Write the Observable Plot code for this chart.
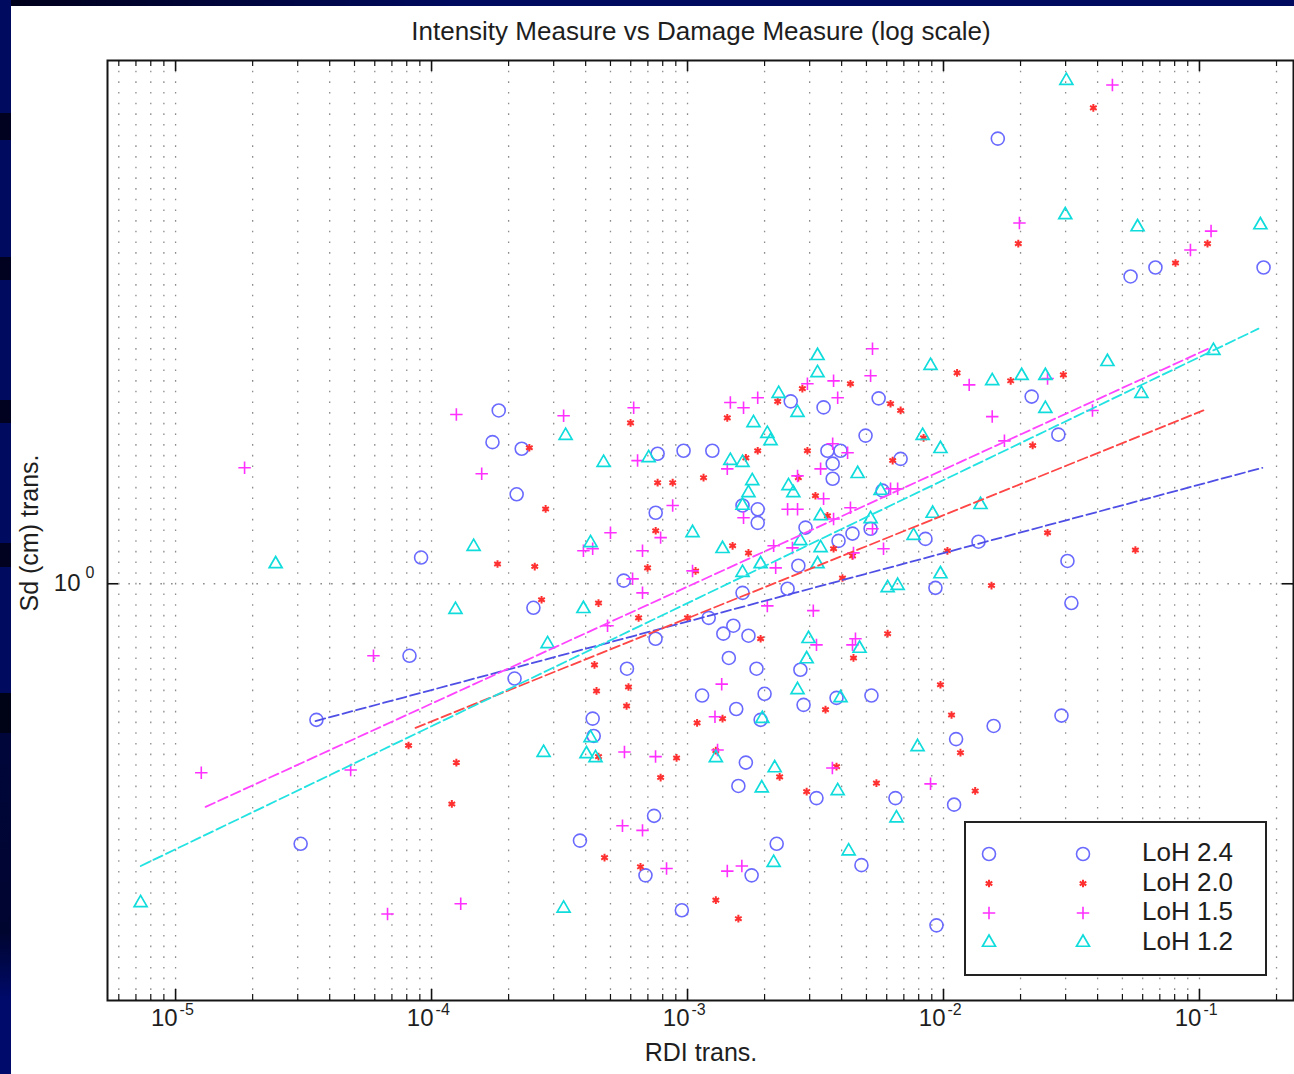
<!DOCTYPE html>
<html><head><meta charset="utf-8">
<script src="https://cdn.jsdelivr.net/npm/d3@7"></script>
<script src="https://cdn.jsdelivr.net/npm/@observablehq/plot@0.6"></script>
<style>
html,body{margin:0;padding:0;}
body{width:1294px;height:1074px;position:relative;overflow:hidden;background:#000a5e;font-family:"Liberation Sans",Arial,Helvetica,sans-serif;color:#1e1e1e;}
#topbar{position:absolute;left:0;top:0;width:1294px;height:6px;background:linear-gradient(90deg,#00001a 0%,#000330 12%,#000a5e 35%,#000a5e 100%);}
#leftbar{position:absolute;left:0;top:0;width:11px;height:1074px;background:linear-gradient(180deg,
 #000a5e 0px,#000a5e 113px,#00021f 113px,#00021f 140px,#000a5e 140px,#000a5e 257px,#00021f 257px,#00021f 280px,#000a5e 280px,#000a5e 400px,#00021f 400px,#00021f 423px,#000a5e 423px,#000a5e 543px,#00021f 543px,#00021f 567px,#000a5e 567px,#000a5e 693px,#000216 693px,#000216 733px,#00063a 733px,#000530 933px,#000a6a 1000px,#000a6a 1074px);}
#paper{position:absolute;left:11px;top:6px;width:1283px;height:1068px;background:#fff;}
#paper svg{position:absolute;left:0;top:0;}
.lbl{position:absolute;white-space:nowrap;line-height:1;color:#1e1e1e;}
#title{left:0;width:1402px;text-align:center;top:18px;font-size:26px;}
#xlabel{left:0;width:1402px;text-align:center;top:1040px;font-size:25px;}
#ylabel{left:29px;top:533px;font-size:25px;transform:translate(-50%,-50%) rotate(-90deg);}
#legend{position:absolute;left:964px;top:821px;width:303px;height:155px;box-sizing:border-box;border:2px solid #222;background:#fff;}
#legend svg{position:absolute;left:-1px;top:-1px;}
</style></head>
<body>
<div id="topbar"></div>
<div id="leftbar"></div>
<div id="paper"></div>
<div class="lbl" id="title">Intensity Measure vs Damage Measure (log scale)</div>
<div class="lbl" id="xlabel">RDI trans.</div>
<div class="lbl" id="ylabel">Sd (cm) trans.</div>
<div id="legend"></div>
<script>
// ---- data (RDI trans., Sd trans.) ----
const loh24 = [
[0.0163,2.69],[0.0538,1.98],[0.0673,2.02],[0.178,2.02],
[1.83e-4,1.47],[1.73e-4,1.37],[2.25e-4,1.35],[2.15e-4,1.22],[9.1e-5,1.06],[8.2e-5,0.852],[3.55e-5,0.739],[3.08e-5,0.561],[2.11e-4,0.81],[2.5e-4,0.948],
[5.8e-4,0.828],[7.5e-4,0.885],[4.26e-4,0.741],[4.3e-4,0.713],[3.8e-4,0.565],[6.85e-4,0.523],[7.4e-4,0.597],[9.5e-4,0.484],
[1.14e-3,0.78],[1.45e-3,0.848],[1.55e-3,0.757],[1.69e-3,0.672],[1.58e-3,0.638],[1.78e-3,0.523],[2.23e-3,0.561],[1.86e-3,0.828],[2.0e-3,0.783],[1.93e-3,0.739],
[2.76e-3,0.826],[2.84e-3,0.764],[3.82e-3,0.776],[3.19e-3,0.621],[4.78e-3,0.535],[5.23e-3,0.78],[6.49e-3,0.621],
[0.0112,0.708],[0.0110,0.612],[9.39e-3,0.468],[0.0137,1.098],[0.0157,0.729],[0.0221,1.516],[0.0281,1.393],[0.0305,1.052],[0.0316,0.958],[0.0289,0.746],
[2.53e-3,1.50],[3.40e-3,1.48],[5.58e-3,1.51],[4.96e-3,1.39],[7.64e-4,1.335],[9.65e-4,1.344],[1.25e-3,1.344],[3.52e-3,1.344],[3.96e-3,1.344],[3.69e-3,1.306],[3.69e-3,1.263],[6.8e-3,1.32],[5.78e-3,1.23],[7.51e-4,1.171],[1.64e-3,1.19],[1.88e-3,1.18],[1.88e-3,1.145],[2.89e-3,1.133],[5.19e-3,1.13],[4.41e-3,1.118],[3.89e-3,1.10],[8.5e-3,1.105],[2.71e-3,1.041],[5.63e-4,1.007],[1.64e-3,0.98],[2.46e-3,0.989],[9.3e-3,0.991],[1.21e-3,0.927],[1.38e-3,0.895],[1.51e-3,0.911],[1.73e-3,0.891]
];
const loh20 = [
[0.0385,2.88],[0.0196,2.13],[0.0806,2.04],[0.1075,2.13],
[2.41e-4,1.353],[2.79e-4,1.181],[1.81e-4,1.045],[2.53e-4,1.039],[2.69e-4,0.965],[8.13e-5,0.698],[1.25e-4,0.672],[1.2e-4,0.613],
[4.33e-4,0.835],[5.88e-4,0.795],[5.78e-4,0.762],[4.41e-4,0.788],[4.49e-4,0.681],[4.74e-4,0.544],[6.55e-4,0.533],[7.85e-4,0.650],[9.06e-4,0.679],
[1.09e-3,0.734],[1.29e-3,0.690],[1.29e-3,0.495],[1.58e-3,0.475],[1.37e-3,0.741],[2.29e-3,0.651],[2.92e-3,0.630],[3.46e-3,0.756],[3.82e-3,0.666],[4.45e-3,0.848],[5.47e-3,0.642],
[9.73e-3,0.799],[0.01075,0.747],[0.01165,0.687],[0.0133,0.631],[0.0154,0.996],[0.0183,1.570],[0.0223,1.36],[0.0294,1.591],[0.0255,1.12],[0.0562,1.078],
[0.0113,1.598],[4.33e-3,1.56],[2.81e-3,1.543],[2.25e-3,1.50],[6.21e-3,1.492],[6.8e-3,1.47],[1.43e-3,1.446],[5.99e-4,1.43],[1.88e-3,1.344],[2.94e-3,1.344],[1.69e-3,1.323],[8.36e-3,1.383],[6.33e-3,1.315],
[1.155e-3,1.266],[7.64e-4,1.252],[8.75e-4,1.252],[2.71e-3,1.266],[3.16e-3,1.216],[3.52e-3,1.163],[7.51e-4,1.125],[1.50e-3,1.088],[1.73e-3,1.071],[3.72e-3,1.081],[6.98e-4,1.036],[1.075e-3,1.029],[4.03e-3,1.013],[4.41e-3,1.064],[0.01036,1.076],
[4.49e-4,0.958],[6.44e-4,0.927],[1.0e-3,0.927],[1.93e-3,0.885],[6.05e-3,0.895]
];
const loh15 = [
[0.0457,3.03],[0.0198,2.23],[0.111,2.19],[0.0922,2.10],
[1.86e-5,1.294],[1.26e-5,0.657],[4.83e-5,0.661],[5.93e-5,0.852],[6.73e-5,0.480],[1.30e-4,0.491],[1.25e-4,1.457],[1.57e-4,1.277],
[5.67e-4,0.688],[7.5e-4,0.681],[5.57e-4,0.584],[6.67e-4,0.578],[1.31e-3,0.691],[3.68e-3,0.664],[8.9e-3,0.641],
[0.0126,1.556],[0.0155,1.450],[0.0173,1.374],[0.0255,1.578],[0.0382,1.47],
[1.63e-3,0.534],[1.43e-3,0.528],[8.28e-4,0.531],[1.36e-3,0.800],[1.28e-3,0.744],[3.19e-3,0.873],[4.41e-3,0.873],
[5.28e-3,1.686],[5.19e-3,1.588],[2.94e-3,1.56],[3.72e-3,1.57],[3.86e-3,1.512],[1.88e-3,1.512],[1.47e-3,1.496],[1.655e-3,1.479],[6.16e-4,1.479],[3.28e-4,1.453],
[6.38e-4,1.315],[1.43e-3,1.291],[3.69e-3,1.365],[4.22e-3,1.338],[3.31e-3,1.291],[2.69e-3,1.271],[3.40e-3,1.208],[8.75e-4,1.19],[2.46e-3,1.18],[2.69e-3,1.18],[1.655e-3,1.158],[4.33e-3,1.184],[6.21e-3,1.235],[6.62e-3,1.235],
[5.0e-4,1.12],[7.85e-4,1.108],[3.92e-4,1.076],[4.26e-4,1.081],[6.67e-4,1.076],[2.17e-3,1.088],[2.57e-3,1.083],[4.45e-3,1.071],[5.83e-3,1.081],[5.28e-3,1.13],[3.72e-3,1.155],
[2.21e-3,1.036],[1.046e-3,1.029],[6.1e-4,1.011],[6.67e-4,0.98],[2.05e-3,0.952],[3.1e-3,0.942],[4.87e-4,0.911],[4.53e-3,0.885]
];
const loh12 = [
[0.0302,3.06],[0.0299,2.27],[0.0573,2.21],[0.173,2.22],[0.1134,1.679],[0.0437,1.638],[0.0593,1.526],[0.025,1.476],[0.0202,1.588],[0.025,1.588],[0.0155,1.57],[0.01395,1.192],
[7.92e-3,0.696],[6.55e-3,0.594],[4.26e-3,0.552],[2.17e-3,0.538],[1.95e-3,0.635],[2.19e-3,0.664],[3.86e-3,0.631],[4.70e-3,0.866],[2.92e-3,0.846],[2.69e-3,0.79],[1.96e-3,0.741],[1.29e-3,0.679],
[4.37e-4,0.679],[4.03e-4,0.685],[2.74e-4,0.687],[3.28e-4,0.486],[7.3e-6,0.492],[2.46e-5,1.045],[1.24e-4,0.944],[1.46e-4,1.086],[2.84e-4,0.875],[3.96e-3,0.776],[4.18e-4,0.710],
[3.22e-3,1.66],[3.22e-3,1.598],[8.9e-3,1.624],[2.27e-3,1.526],[2.69e-3,1.463],[1.81e-3,1.43],[2.05e-3,1.396],[2.11e-3,1.374],[8.29e-3,1.39],[9.73e-3,1.35],[3.34e-4,1.39],[4.70e-4,1.309],[7.05e-4,1.323],
[1.47e-3,1.315],[1.64e-3,1.309],[1.79e-3,1.257],[1.73e-3,1.224],[2.48e-3,1.243],[2.59e-3,1.224],[4.62e-3,1.277],[1.64e-3,1.19],[5.68e-3,1.23],[3.31e-3,1.163],[5.19e-3,1.155],[9.07e-3,1.169],
[1.046e-3,1.12],[4.18e-4,1.095],[2.76e-3,1.10],[3.31e-3,1.083],[7.64e-3,1.113],[1.37e-3,1.081],[1.64e-3,1.025],[1.93e-3,1.045],[3.22e-3,1.045],[9.73e-3,1.022],[6.05e-3,0.991],[6.62e-3,0.996],[3.92e-4,0.946],[2.97e-3,0.885]
];
// power-law fit lines (end points)
const fit24 = [[3.52e-5,0.737],[0.176,1.294]];
const fit20 = [[8.66e-5,0.726],[0.1036,1.47]];
const fit15 = [[1.31e-5,0.609],[0.1104,1.69]];
const fit12 = [[7.31e-6,0.534],[0.170,1.763]];
// axes
const xDomain = [5.42e-6, 0.233];
const yDomain = [0.396, 3.2];
const xTickExponents = [-5, -4, -3, -2, -1];
const yTickExponents = [0];
const decadeExponents = [-6, -5, -4, -3, -2, -1];
const mantissas = [1, 2, 3, 4, 5, 6, 7, 8, 9];
const legendLabels = ["LoH 2.4", "LoH 2.0", "LoH 1.5", "LoH 1.2"];

const colors = {c24: "#6a6aff", c20: "#ff3030", c15: "#ff30ff", c12: "#10dcdc"};
const lineColors = {c24: "#4f4fe6", c20: "#ff4646", c15: "#ff44ff", c12: "#22e2e2"};
const styles = [
  {data: loh24, symbol: "circle", r: 6.5, stroke: colors.c24, sw: 1.6},
  {data: loh20, symbol: "asterisk", r: 3.6, stroke: colors.c20, sw: 2},
  {data: loh15, symbol: "plus", r: 4.1, stroke: colors.c15, sw: 1.6},
  {data: loh12, symbol: "triangle2", r: 6.2, stroke: colors.c12, sw: 1.7}
];

const gridX = decadeExponents.flatMap(e => mantissas.map(m => +(m * Math.pow(10, e)).toPrecision(6)))
  .filter(v => v >= xDomain[0] && v <= xDomain[1]);
const majorX = xTickExponents.map(e => Math.pow(10, e));
const minorX = gridX.filter(v => !majorX.some(m => Math.abs(m - v) / m < 1e-9));
const majorY = yTickExponents.map(e => Math.pow(10, e));

const W = 1283, H = 1068, mL = 96, mR = 1, mT = 54, mB = 74;
const fw = W - mL - mR, fh = H - mT - mB;
const acc = {x: d => d[0], y: d => d[1]};
const dotC = "#8c8c8c", dash = "1.6,9.07";

const marks = [
  Plot.ruleX(gridX, {x: d => d, stroke: dotC, strokeWidth: 1.3, strokeDasharray: dash}),
  Plot.ruleY(majorY, {y: d => d, stroke: dotC, strokeWidth: 1.3, strokeDasharray: dash}),
  Plot.ruleX(majorX, {x: d => d, stroke: "#111", strokeWidth: 1.6, insetTop: fh - 11}),
  Plot.ruleX(majorX, {x: d => d, stroke: "#111", strokeWidth: 1.6, insetBottom: fh - 11}),
  Plot.ruleX(minorX, {x: d => d, stroke: "#111", strokeWidth: 1.2, insetTop: fh - 6}),
  Plot.ruleX(minorX, {x: d => d, stroke: "#111", strokeWidth: 1.2, insetBottom: fh - 6}),
  Plot.ruleY(majorY, {y: d => d, stroke: "#111", strokeWidth: 1.6, insetRight: fw - 11}),
  Plot.ruleY(majorY, {y: d => d, stroke: "#111", strokeWidth: 1.6, insetLeft: fw - 11}),
  Plot.frame({stroke: "#151515", strokeWidth: 2}),
  Plot.text(majorX, {x: d => d, frameAnchor: "bottom", text: () => "10", textAnchor: "end", dx: 2, dy: 25, fontSize: 24, fill: "#1e1e1e"}),
  Plot.text(majorX, {x: d => d, frameAnchor: "bottom", text: (d, i) => String(xTickExponents[i]), textAnchor: "start", dx: 4, dy: 14, fontSize: 16, fill: "#1e1e1e"}),
  Plot.text(majorY, {y: d => d, frameAnchor: "left", text: () => "10", textAnchor: "end", dx: -27, dy: 0, fontSize: 24, fill: "#1e1e1e"}),
  Plot.text(majorY, {y: d => d, frameAnchor: "left", text: (d, i) => String(yTickExponents[i]), textAnchor: "start", dx: -22, dy: -11, fontSize: 16, fill: "#1e1e1e"}),
  ...styles.map(s => Plot.dot(s.data, {...acc, symbol: s.symbol, r: s.r, stroke: s.stroke, strokeWidth: s.sw, fill: "none"})),
  Plot.line(fit24, {...acc, stroke: lineColors.c24, strokeWidth: 1.8, strokeDasharray: "10,4"}),
  Plot.line(fit20, {...acc, stroke: lineColors.c20, strokeWidth: 1.8, strokeDasharray: "10,4"}),
  Plot.line(fit15, {...acc, stroke: lineColors.c15, strokeWidth: 1.8, strokeDasharray: "10,4"}),
  Plot.line(fit12, {...acc, stroke: lineColors.c12, strokeWidth: 1.8, strokeDasharray: "10,4"})
];

const chart = Plot.plot({
  width: W, height: H,
  marginLeft: mL, marginRight: mR, marginTop: mT, marginBottom: mB,
  x: {type: "log", domain: xDomain, axis: null},
  y: {type: "log", domain: yDomain, axis: null},
  style: {background: "transparent", fontFamily: "'Liberation Sans', Arial, sans-serif", color: "#1e1e1e", overflow: "visible"},
  marks
});
document.getElementById("paper").appendChild(chart);

// legend
const symMap = {circle: d3.symbolCircle, asterisk: d3.symbolAsterisk, plus: d3.symbolPlus, triangle2: d3.symbolTriangle2};
const lg = d3.select("#legend").append("svg").attr("width", 303).attr("height", 155)
  .style("font-family", "'Liberation Sans', Arial, sans-serif");
const rowY = [32, 61.5, 91, 120.5];
const colX = [24, 118];
styles.forEach((s, i) => {
  colX.forEach(cx => {
    lg.append("path")
      .attr("d", d3.symbol(symMap[s.symbol], Math.PI * s.r * s.r)())
      .attr("transform", `translate(${cx},${rowY[i]})`)
      .attr("fill", "none").attr("stroke", s.stroke).attr("stroke-width", s.sw);
  });
  lg.append("text").attr("x", 177).attr("y", rowY[i] + 7)
    .attr("font-size", 26).attr("fill", "#1e1e1e").text(legendLabels[i]);
});
</script>
</body></html>
